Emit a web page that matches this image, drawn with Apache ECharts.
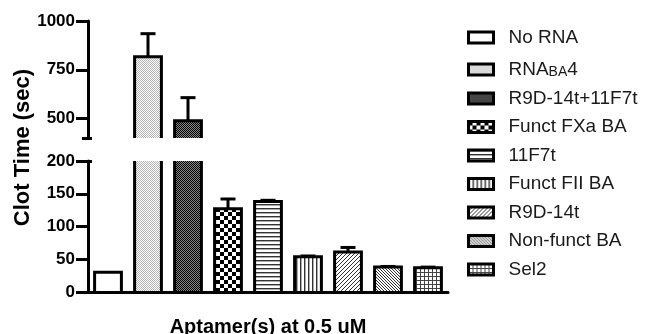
<!DOCTYPE html>
<html><head><meta charset="utf-8">
<script src="https://cdn.jsdelivr.net/npm/echarts@6/dist/echarts.min.js"></script>
<style>html,body{margin:0;padding:0;background:#fff}#c{width:648px;height:334px}</style>
</head><body><div id="c"></div>
<script>
// ---- data ----
const categories = ['No RNA', 'RNA_BA_4', 'R9D-14t+11F7t', 'Funct FXa BA', '11F7t', 'Funct FII BA', 'R9D-14t', 'Non-funct BA', 'Sel2'];
const clotTime   = [30, 817, 489, 127, 138, 54, 61, 38, 37];
const clotTimeSD = [0, 118, 118, 15, 2, 1, 7, 1, 1];
const lowerRange = [0, 200];
const upperRange = [400, 1000];
const lowerTicks = [0, 50, 100, 150, 200];
const upperTicks = [500, 750, 1000];
const xTitle = 'Aptamer(s) at 0.5 uM';
const yTitle = 'Clot Time (sec)';

const FONT = '"Liberation Sans", Arial, sans-serif';

// ---- fill patterns ----
function makeTile(w, h, draw) {
  const c = document.createElement('canvas');
  c.width = w; c.height = h;
  const g = c.getContext('2d');
  g.fillStyle = '#fff'; g.fillRect(0, 0, w, h);
  draw(g);
  return { image: c, repeat: 'repeat' };
}
function px(g, color, pts) { g.fillStyle = color; pts.forEach(p => g.fillRect(p[0], p[1], 1, 1)); }
const patterns = [
  '#ffffff',
  makeTile(2, 2, g => px(g, '#b4b4b4', [[0, 0], [1, 1]])),
  makeTile(2, 2, g => { g.fillStyle = '#8a8a8a'; g.fillRect(0, 0, 2, 2); px(g, '#000', [[0, 0], [1, 1]]); }),
  makeTile(8, 8, g => { g.fillStyle = '#000'; g.fillRect(0, 0, 4, 4); g.fillRect(4, 4, 4, 4); }),
  makeTile(1, 4, g => { px(g, '#333', [[0, 0]]); px(g, '#aaa', [[0, 1]]); }),
  makeTile(4, 1, g => { px(g, '#333', [[0, 0]]); px(g, '#aaa', [[1, 0]]); }),
  makeTile(4, 4, g => px(g, '#333', [[3, 0], [2, 1], [1, 2], [0, 3]])),
  makeTile(3, 3, g => px(g, '#333', [[0, 0], [1, 1], [2, 2]])),
  makeTile(4, 4, g => { g.fillStyle = '#444'; g.fillRect(0, 0, 4, 1); g.fillRect(0, 0, 1, 4); })
];

// ---- bar renderer (open at clipped edges, like a broken axis) ----
const LW = 3;
function renderBar(params, api) {
  const cs = params.coordSys;
  const idx = api.value(0), val = api.value(1), err = api.value(2);
  const top = api.coord([idx, val]);
  const base = api.coord([idx, 0]);
  const bw = api.size([1, 0])[0] * 0.67;
  const cx = top[0], x0 = cx - bw / 2, x1 = cx + bw / 2;
  const gTop = cs.y, gBot = cs.y + cs.height;
  const yT = Math.max(top[1], gTop);
  const yB = Math.min(base[1], gBot);
  if (yT >= yB) return null;
  const clippedTop = top[1] < gTop;
  const ls = { stroke: '#000', lineWidth: LW, fill: null, lineJoin: 'miter' };
  const children = [{ type: 'rect', shape: { x: x0, y: yT, width: bw, height: yB - yT }, style: { fill: patterns[idx] } }];
  if (!clippedTop && err > 0) {
    const e = api.coord([idx, val + err]);
    if (e[1] >= gTop) {
      children.push({ type: 'line', shape: { x1: cx, y1: top[1], x2: cx, y2: e[1] }, style: ls });
      children.push({ type: 'line', shape: { x1: cx - 7.5, y1: e[1], x2: cx + 7.5, y2: e[1] }, style: ls });
    }
  }
  if (clippedTop) {
    children.push({ type: 'line', shape: { x1: x0, y1: yT, x2: x0, y2: yB }, style: ls });
    children.push({ type: 'line', shape: { x1: x1, y1: yT, x2: x1, y2: yB }, style: ls });
  } else {
    children.push({ type: 'polyline', shape: { points: [[x0, yB], [x0, yT], [x1, yT], [x1, yB]] }, style: ls });
  }
  return { type: 'group', children };
}

const series = [];
[0, 1].forEach(gi => categories.forEach((name, i) => series.push({
  type: 'custom', name, coordinateSystem: 'cartesian2d', xAxisIndex: gi, yAxisIndex: gi,
  itemStyle: { color: patterns[i] }, silent: true, z: 2,
  encode: { x: 0, y: 1 },
  data: [[i, clotTime[i], clotTimeSD[i]]],
  renderItem: renderBar
})));

const axisLineStyle = { color: '#000', width: LW };
const labelStyle = { fontSize: 17, fontWeight: 'bold', color: '#000', fontFamily: FONT, margin: 13, formatter: v => String(v) };
const tickStyle = { color: '#000', width: LW };

const option = {
  animation: false,
  backgroundColor: '#fff',
  grid: [
    { left: 88, width: 360, top: 21, height: 117, outerBoundsMode: 'none' },
    { left: 88, width: 360, top: 161, height: 131, outerBoundsMode: 'none' }
  ],
  xAxis: [
    { gridIndex: 0, type: 'category', data: categories, show: false },
    { gridIndex: 1, type: 'category', data: categories, z: 5,
      axisLine: { lineStyle: axisLineStyle }, axisTick: { show: false }, axisLabel: { show: false },
      name: xTitle, nameLocation: 'middle', nameGap: 25,
      nameTextStyle: { fontSize: 20, fontWeight: 'bold', color: '#000', fontFamily: FONT } }
  ],
  yAxis: [
    { gridIndex: 0, type: 'value', position: 'left', min: upperRange[0], max: upperRange[1],
      axisLine: { show: true, lineStyle: axisLineStyle },
      axisTick: { show: true, length: 12, lineStyle: tickStyle, customValues: upperTicks },
      axisLabel: Object.assign({ customValues: upperTicks }, labelStyle),
      splitLine: { show: false } },
    { gridIndex: 1, type: 'value', position: 'left', min: lowerRange[0], max: lowerRange[1],
      axisLine: { show: true, lineStyle: axisLineStyle },
      axisTick: { show: true, length: 12, lineStyle: tickStyle, customValues: lowerTicks },
      axisLabel: Object.assign({ customValues: lowerTicks }, labelStyle),
      splitLine: { show: false } },
    { gridIndex: 0, type: 'value', position: 'left', min: upperRange[0], max: upperRange[1],
      axisLine: { show: false }, axisLabel: { show: false }, splitLine: { show: false },
      axisTick: { show: true, length: 6, lineStyle: tickStyle, customValues: [upperRange[0]] } },
    { gridIndex: 0, type: 'value', position: 'left', min: upperRange[0], max: upperRange[1],
      axisLine: { show: false }, axisLabel: { show: false }, splitLine: { show: false },
      axisTick: { show: true, inside: true, length: 4, lineStyle: tickStyle, customValues: [upperRange[0]] } },
    { gridIndex: 1, type: 'value', position: 'left', min: lowerRange[0], max: lowerRange[1],
      axisLine: { show: false }, axisLabel: { show: false }, splitLine: { show: false },
      axisTick: { show: true, inside: true, length: 4, lineStyle: tickStyle, customValues: [lowerRange[1]] } }
  ],
  legend: {
    orient: 'vertical', left: 467, top: 28, padding: 0, itemWidth: 25, itemHeight: 11, itemGap: 9.5,
    icon: 'rect', selectedMode: false,
    data: categories.map((n, i) => ({ name: n, itemStyle: { color: patterns[i] } })),
    itemStyle: { borderColor: '#000', borderWidth: 3 },
    formatter: n => {
      const p = n.split('_');
      let s = '{f|' + p[0] + '}';
      if (p.length > 1) s += '{s|' + p[1] + '}{t|' + p[2] + '}';
      return s;
    },
    textStyle: {
      fontFamily: FONT, fontSize: 19, color: '#1a1a1a',
      rich: {
        f: { fontFamily: FONT, fontSize: 19, lineHeight: 20, color: '#1a1a1a', padding: [0, 0, 0, 10] },
        t: { fontFamily: FONT, fontSize: 19, lineHeight: 20, color: '#1a1a1a' },
        s: { fontFamily: FONT, fontSize: 14, lineHeight: 10, color: '#1a1a1a', padding: [9, 0, 0, 0], verticalAlign: 'bottom' }
      }
    }
  },
  graphic: [{
    type: 'text', x: 22.5, y: 147.5, rotation: Math.PI / 2,
    style: { text: yTitle, fontSize: 22, fontWeight: 'bold', fontFamily: FONT, fill: '#000', align: 'center', verticalAlign: 'middle' }
  }],
  series
};

const chart = echarts.init(document.getElementById('c'), null, { renderer: 'canvas' });
chart.setOption(option);
</script>
</body></html>
